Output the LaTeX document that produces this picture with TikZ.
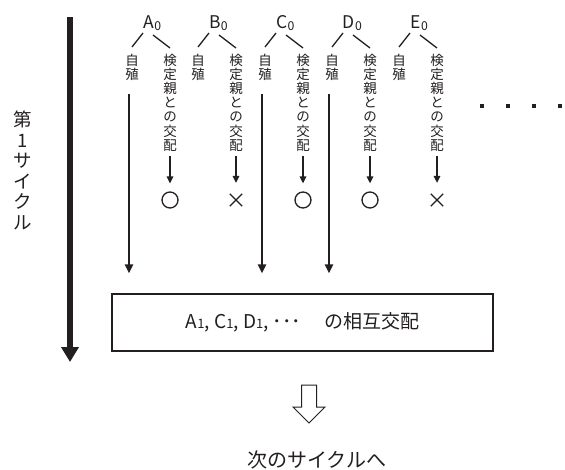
\documentclass[tikz,border=0pt]{standalone}
\usepackage{fontspec}
\setmainfont{Noto Sans CJK JP}
\usetikzlibrary{arrows.meta,shapes.misc,calc}
\definecolor{ink}{HTML}{231F20}
\begin{document}
\begin{tikzpicture}[x=1pt,y=-1pt,
  every node/.style={text=ink},
  lbl/.style={font=\fontsize{17.5}{17.5}\selectfont, inner sep=0, anchor=base},
  vt/.style={font=\fontsize{13.5}{14.1}\selectfont, align=center, inner sep=0, anchor=north},
  branch/.style={draw=ink, line width=1.3pt},
  longarr/.style={draw=ink, line width=2.8pt, -{Triangle[width=8pt,length=9pt]}},
  smallarr/.style={draw=ink, line width=1.4pt, -{Triangle[width=6.5pt,length=7pt]}},
  okmark/.style={circle, draw=ink, line width=1.3pt, minimum size=16pt, inner sep=0},
  ngmark/.style={cross out, draw=ink, line width=1.3pt, minimum size=11pt, inner sep=0},
  dotm/.style={rectangle, fill=ink, minimum size=3.5pt, inner sep=0},
  mainbox/.style={draw=ink, line width=1.3pt, minimum width=381pt, minimum height=57pt, inner sep=0,
    font=\fontsize{19}{19}\selectfont},
  big/.style={font=\fontsize{18.5}{20.5}\selectfont, align=center, inner sep=0}
]
\useasboundingbox (0,0) rectangle (565,469);

% big cycle arrow
\coordinate (cyctop) at (70,17);
\coordinate (cycbot) at (70,362);
\draw[draw=ink, line width=6pt, -{Triangle[width=17pt,length=15pt]}] (cyctop) -- (cycbot);
\node[big, anchor=north] (cyc) at (23,111) {第\\1\\サ\\イ\\ク\\ル};

% groups
\foreach \n/\x in {A/149,B/215,C/282,D/349,E/416}{
  \node[lbl] (\n lab) at (\x,28) {\n\rlap{\textsubscript{0}}};
  \node[vt] (\n s) at (\x-17,54) {自\\殖};
  \node[vt] (\n t) at (\x+21,54) {検\\定\\親\\と\\の\\交\\配};
  \draw[branch] ($(\n lab.base)+(-6,5)$) -- ++(-11,14);
  \draw[branch] ($(\n lab.base)+(4,7)$) -- ++(17,13);
}

% results
\node[okmark] (Ar) at (170,200) {};
\node[ngmark] (Br) at (236,200) {};
\node[okmark] (Cr) at (303,200) {};
\node[okmark] (Dr) at (370,200) {};
\node[ngmark] (Er) at (437,200) {};
\foreach \n in {A,C,D}{
  \draw[smallarr, shorten <=5pt, shorten >=8pt] (\n t.south) -- (\n r.north);
}
\foreach \n in {B,E}{
  \draw[smallarr, shorten <=5pt, shorten >=11pt] (\n t.south) -- (\n r.north);
}

% box
\node[mainbox] (box) at (302.5,322.5) {A{\fontsize{13}{13}\selectfont 1}, C{\fontsize{13}{13}\selectfont 1}, D{\fontsize{13}{13}\selectfont 1}, ･･･\hspace{1.2em}の相互交配};

% self-fertilisation arrows
\foreach \n in {A,C,D}{
  \draw[longarr, shorten <=13pt, shorten >=20pt] ([xshift=-3pt]\n s.south) -- ([xshift=-3pt]\n s.south |- box.north);
}

% dots
\node[dotm] (d1) at (482,106) {};
\node[dotm] (d2) at (508,106) {};
\node[dotm] (d3) at (534,106) {};
\node[dotm] (d4) at (560,106) {};

% hollow arrow
\draw[draw=ink, line width=1pt, line join=miter]
  (301.5,385) -- (316.5,385) -- (316.5,407) -- (325,407) -- (309,423) -- (293,407) -- (301.5,407) -- cycle;

\node[font=\fontsize{20}{20}\selectfont, inner sep=0] (next) at (316.5,460) {次のサイクルへ};
\end{tikzpicture}
\end{document}
